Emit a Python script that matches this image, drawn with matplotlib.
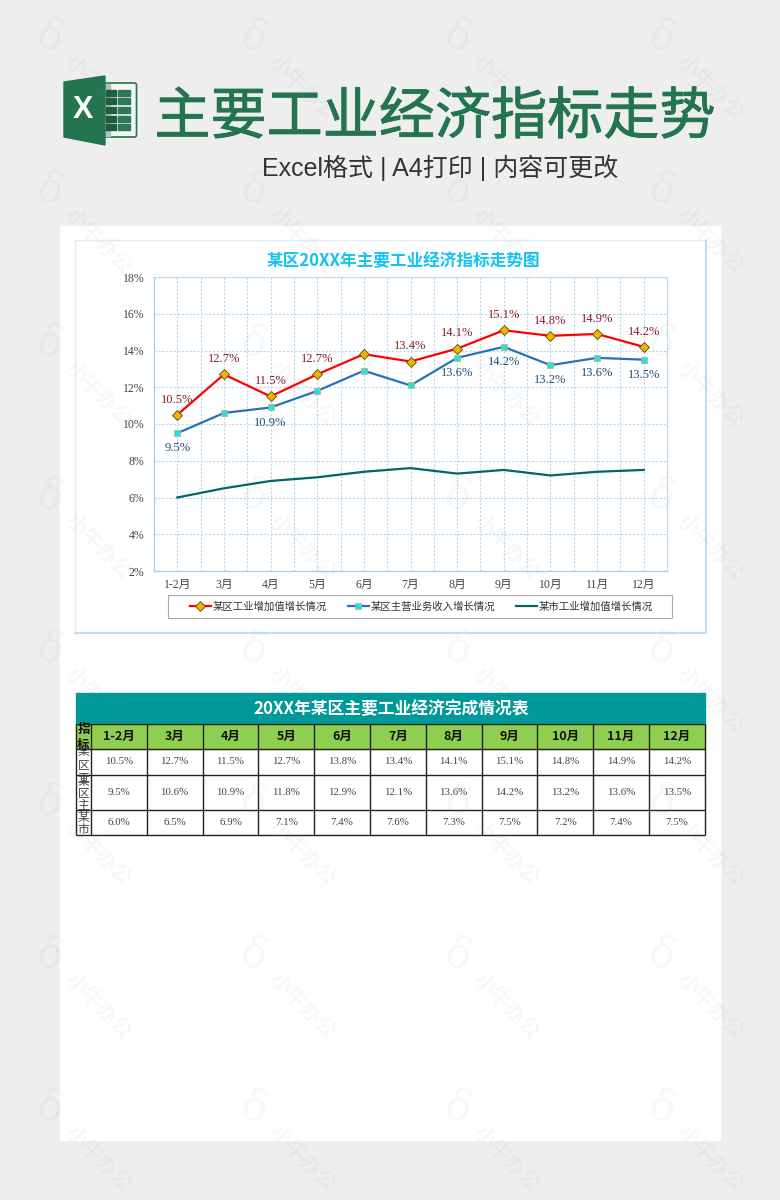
import numpy as np
import matplotlib
matplotlib.use('Agg')
import matplotlib.pyplot as plt
import matplotlib.patheffects as pe
from matplotlib.patches import Polygon, Rectangle, FancyBboxPatch

SANS = ['Noto Sans CJK SC', 'DejaVu Sans']
SERIF = ['Liberation Serif', 'Noto Sans CJK SC']
plt.rcParams['font.family'] = SANS

months = ['1-2月', '3月', '4月', '5月', '6月', '7月', '8月', '9月', '10月', '11月', '12月']
names = ['某区工业增加值增长情况', '某区主营业务收入增长情况', '某市工业增加值增长情况']
district_output = [10.5, 12.7, 11.5, 12.7, 13.8, 13.4, 14.1, 15.1, 14.8, 14.9, 14.2]
district_revenue = [9.5, 10.6, 10.9, 11.8, 12.9, 12.1, 13.6, 14.2, 13.2, 13.6, 13.5]
city_output = [6.0, 6.5, 6.9, 7.1, 7.4, 7.6, 7.3, 7.5, 7.2, 7.4, 7.5]
# which points carry a label in the chart
output_labelled = [0, 1, 2, 3, 5, 6, 7, 8, 9, 10]
revenue_labelled = [0, 2, 6, 7, 8, 9, 10]
yticks = [2, 4, 6, 8, 10, 12, 14, 16, 18]

big_title = '主要工业经济指标走势'
sub_title = 'Excel格式 | A4打印 | 内容可更改'
chart_title = '某区20XX年主要工业经济指标走势图'
table_title = '20XX年某区主要工业经济完成情况表'
corner_label = '指标'

W, H = 780, 1200
fig = plt.figure(figsize=(W / 100, H / 100), dpi=100)

# page background, everything here is in pixels
bg = fig.add_axes([0, 0, 1, 1], zorder=0)
bg.set_xlim(0, W)
bg.set_ylim(H, 0)
bg.axis('off')
bg.add_patch(Rectangle((0, 0), W, H, color='#EEEEEE'))
bg.add_patch(Rectangle((60, 226), 660, 914, color='white'))
# chart frame, pale on top and left, stronger on right and bottom
bg.plot([75, 75, 706], [633, 240, 240], color='#DDEEF7', lw=1.0)
bg.plot([706, 706, 75], [240, 633, 633], color='#B5D8F2', lw=1.2)

# excel icon
bg.add_patch(FancyBboxPatch((100, 83), 36.5, 54, boxstyle='round,pad=0,rounding_size=2',
                            fc='#F6F6F6', ec='#23744F', lw=1.2))
bg.add_patch(Rectangle((105, 84), 5, 52, color='#BDBDBD'))
for r in range(5):
    y0 = 89.5 + r * 8.7
    bg.add_patch(Rectangle((106, y0), 10, 6.2, color='#1B5E3F'))
    bg.add_patch(Rectangle((118, y0), 12, 6.2, color='#2B7A55'))
bg.add_patch(Polygon([(64, 82), (105, 76), (105, 145), (64, 137)], color='#23744F'))
bg.text(83, 110, 'X', color='white', fontsize=22, fontweight='bold', ha='center', va='center',
        family=['Liberation Sans', 'DejaVu Sans'])

# reference weight sits between regular and bold, so thicken the regular face a bit
t = bg.text(435, 118, big_title, color='#23744F', fontsize=40.4, ha='center', va='center')
t.set_path_effects([pe.withStroke(linewidth=0.6, foreground='#23744F')])
bg.text(440, 168, sub_title, color='#333333', fontsize=18, ha='center', va='center',
        family=['Liberation Sans', 'Noto Sans CJK SC'])
bg.text(403, 261, chart_title, color='#12C4F2', fontsize=12, fontweight='bold', ha='center', va='center')

# table
tx = [76, 91] + [91 + 55.8 * (i + 1) for i in range(11)]
ty = [724, 749, 775, 810, 835]
rows = [district_output, district_revenue, city_output]

bg.add_patch(Rectangle((76, 693), 629, 31, color='#009999'))
bg.text(391, 709, table_title, color='white', fontsize=12.1, fontweight='bold', ha='center', va='center')
bg.add_patch(Rectangle((tx[0], ty[0]), tx[-1] - tx[0], ty[1] - ty[0], color='#8FCF4F'))

for j, m in enumerate(months):
    bg.text((tx[j + 1] + tx[j + 2]) / 2, (ty[0] + ty[1]) / 2, m, fontsize=9, fontweight='bold',
            ha='center', va='center', color='#111111')
for i, row in enumerate(rows):
    for j, v in enumerate(row):
        bg.text((tx[j + 1] + tx[j + 2]) / 2, (ty[i + 1] + ty[i + 2]) / 2, '%.1f%%' % v, fontsize=7.8,
                family=SERIF, ha='center', va='center', color='#444444')

# first column is too narrow, the excel cell wraps and clips its text
cell = Rectangle((tx[0], ty[0]), tx[1] - tx[0], ty[1] - ty[0], transform=bg.transData)
for ch, y in zip(corner_label, [730, 745]):
    t = bg.text(83.5, y, ch, fontsize=9, fontweight='bold', ha='center', va='center', color='#111111')
    t.set_clip_path(cell)
row_char_y = [[752, 765, 778], [782, 794, 806], [817, 829]]
for i, ys in enumerate(row_char_y):
    cell = Rectangle((tx[0], ty[i + 1]), tx[1] - tx[0], ty[i + 2] - ty[i + 1], transform=bg.transData)
    for ch, y in zip(names[i][:len(ys)], ys):
        t = bg.text(83.5, y, ch, fontsize=8.5, ha='center', va='center', color='#444444')
        t.set_clip_path(cell)

for x in tx:
    bg.plot([x, x], [ty[0], ty[-1]], color='#222222', lw=1.0, solid_capstyle='butt')
for y in ty:
    bg.plot([tx[0], tx[-1]], [y, y], color='#222222', lw=1.0, solid_capstyle='butt')

# legend box is drawn here, the legend itself has no frame
bg.add_patch(Rectangle((168, 595), 504, 23, fc='white', ec='#AAAAAA', lw=0.8))

# line chart
left, right, top, bottom = 154, 667, 277, 571
ax = fig.add_axes([left / W, 1 - bottom / H, (right - left) / W, (bottom - top) / H], zorder=1)
ax.patch.set_alpha(0)
x = np.arange(len(months))

ax.plot(x, district_output, color='#FF0000', lw=1.6, marker='D', ms=5, mfc='#F2B200', mec='#5A4A00', mew=0.6,
        label=names[0], zorder=4)
ax.plot(x, district_revenue, color='#2A70B8', lw=1.6, marker='s', ms=4, mfc='#19E6E6', mec='#E0A060', mew=0.5,
        label=names[1], zorder=3)
ax.plot(x, city_output, color='#006666', lw=1.6, label=names[2], zorder=3)

for i in output_labelled:
    ax.annotate('%.1f%%' % district_output[i], (x[i], district_output[i]), xytext=(0, 11), textcoords='offset points',
                ha='center', va='center', fontsize=9, family=SERIF, color='#8B1A2B')
for i in revenue_labelled:
    ax.annotate('%.1f%%' % district_revenue[i], (x[i], district_revenue[i]), xytext=(0, -11), textcoords='offset points',
                ha='center', va='center', fontsize=9, family=SERIF, color='#1F4E79')

ax.set_xlim(-0.5, len(months) - 0.5)
ax.set_ylim(2, 18)
ax.set_yticks(yticks)
ax.set_yticklabels(['%d%%' % v for v in yticks], family=SERIF, fontsize=8.5, color='#444444')
ax.set_xticks(x)
ax.set_xticklabels(months, family=SERIF, fontsize=8.5, color='#444444')
ax.set_xticks(np.arange(-0.5, len(months), 1), minor=True)
ax.tick_params(which='both', length=0)
ax.tick_params(axis='x', pad=6)
ax.tick_params(axis='y', pad=7)
ax.grid(True, which='both', color='#B5D7F2', lw=0.8, ls=(0, (2, 1.5)))
ax.set_axisbelow(True)
for s in ['top', 'right']:
    ax.spines[s].set_color('#B5D7F2')
    ax.spines[s].set_linestyle((0, (2, 1.5)))
    ax.spines[s].set_linewidth(0.8)
for s in ['left', 'bottom']:
    ax.spines[s].set_color('#A5CDEE')
    ax.spines[s].set_linewidth(0.9)

ax.legend(loc='center', ncol=3, bbox_to_anchor=(190 / W, 1 - 618 / H, 463 / W, 23 / H),
          bbox_transform=fig.transFigure, mode='expand', borderaxespad=0, borderpad=0, frameon=False,
          prop={'family': SERIF, 'size': 7.5}, handlelength=2.0, handletextpad=0.2, columnspacing=1.0,
          labelcolor='#333333')

# site watermark, tiled over the whole page
over = fig.add_axes([0, 0, 1, 1], zorder=2)
over.set_xlim(0, W)
over.set_ylim(H, 0)
over.axis('off')
for cx in [0, 204, 408, 612]:
    for cy in [0, 153, 306, 459, 612, 765, 918, 1071]:
        over.text(cx + 50, cy + 38, 'δ', fontsize=30, color='#888888', alpha=0.07, ha='center', va='center',
                  family=['DejaVu Serif'], rotation=-20)
        over.text(cx + 98, cy + 88, '小牛办公', fontsize=15, color='#888888', alpha=0.07, ha='center', va='center',
                  rotation=-45, rotation_mode='anchor', fontweight='bold')

fig.savefig('out.png', dpi=100)
